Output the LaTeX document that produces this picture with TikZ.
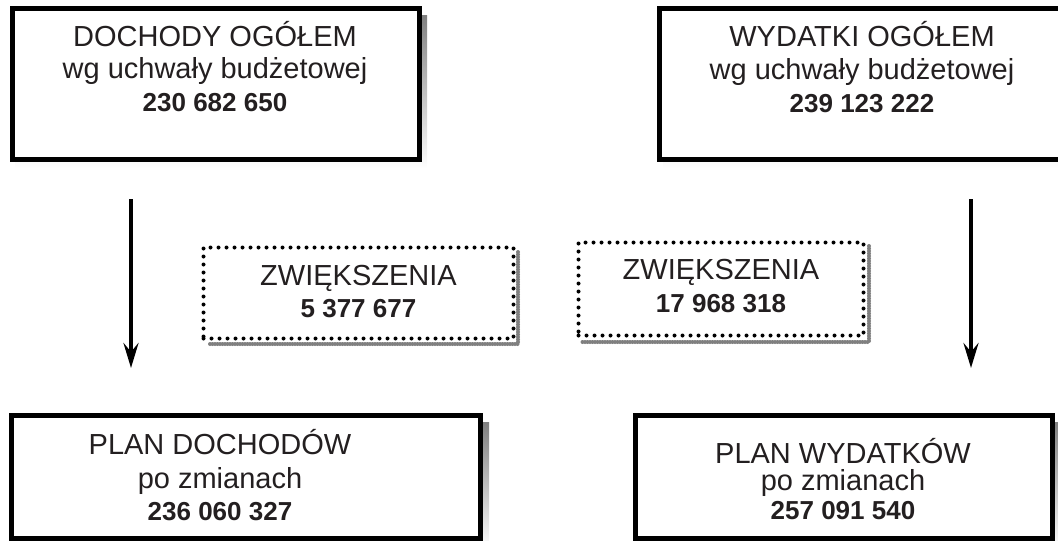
\documentclass[tikz,border=0pt]{standalone}
\usepackage{fontspec}
\setmainfont{Liberation Sans}
\usetikzlibrary{arrows.meta}
\definecolor{ink}{RGB}{35,31,32}
\definecolor{shade}{RGB}{128,128,128}
\begin{document}
\begin{tikzpicture}[x=1pt,y=-1pt,
  solidbox/.style={draw=black, line width=5pt, fill=white, rectangle, inner sep=0pt, outer sep=0pt},
  dotbox/.style={draw=black, line width=4pt, line cap=round, dash pattern=on 0pt off 8pt, fill=white, rectangle, inner sep=0pt, outer sep=0pt},
  dotshadow/.style={draw=shade, line width=4pt, line cap=round, dash pattern=on 0pt off 2.5pt},
  txt/.style={anchor=base, inner sep=0pt, text=ink, font=\fontsize{29}{33}\selectfont},
  num/.style={anchor=base, inner sep=0pt, text=ink, font=\fontsize{26}{30}\selectfont\bfseries},
  flow/.style={draw=black, line width=4pt, -{Stealth[length=25pt, width=15pt, inset=9pt]}}
]
\useasboundingbox (0,0) rectangle (1058,541);

% shadows of solid boxes
\fill[shade] (15,15) rectangle (427,168);
\fill[shade] (663,15) rectangle (1070,168);
\fill[shade] (15,422) rectangle (489,550);
\fill[shade] (639,422) rectangle (1061,550);

% solid boxes
\node[solidbox, minimum width=407pt, minimum height=151pt] (dochody) at (215.5,84) {};
\node[solidbox, minimum width=405pt, minimum height=151pt] (wydatki) at (862,84) {};
\node[solidbox, minimum width=469pt, minimum height=123pt] (plandoch) at (246,477) {};
\node[solidbox, minimum width=417pt, minimum height=123pt] (planwyd) at (844,477) {};

% dotted boxes with shadows
\draw[dotshadow] (518,252) -- (518,344) -- (208,344);
\node[dotbox, minimum width=310pt, minimum height=91pt] (zw1) at (358.5,293) {};
\draw[dotshadow] (869,246) -- (869,342) -- (582,342);
\node[dotbox, minimum width=285pt, minimum height=93pt] (zw2) at (721,289) {};

% texts
\node[txt] (t1a) at (215,46) {DOCHODY OGÓŁEM};
\node[txt] (t1b) at (215,78) {wg uchwały budżetowej};
\node[num] (t1c) at (215,111) {230 682 650};

\node[txt] (t2a) at (862,46) {WYDATKI OGÓŁEM};
\node[txt] (t2b) at (862,79) {wg uchwały budżetowej};
\node[num] (t2c) at (862,112) {239 123 222};

\node[txt] (t3a) at (220,454) {PLAN DOCHODÓW};
\node[txt] (t3b) at (220,488) {po zmianach};
\node[num] (t3c) at (220,520) {236 060 327};

\node[txt] (t4a) at (843,463) {PLAN WYDATKÓW};
\node[txt] (t4b) at (843,490) {po zmianach};
\node[num] (t4c) at (843,519) {257 091 540};

\node[txt] (z1a) at (358.5,285) {ZWIĘKSZENIA};
\node[num] (z1b) at (358.5,317) {5 377 677};

\node[txt] (z2a) at (721,279) {ZWIĘKSZENIA};
\node[num] (z2b) at (721,312) {17 968 318};

% arrows
\coordinate (a1s) at (131,199);
\coordinate (a1e) at (131,368);
\coordinate (a2s) at (971,199);
\coordinate (a2e) at (971,368);
\draw[flow] (a1s) -- (a1e);
\draw[flow] (a2s) -- (a2e);
\end{tikzpicture}
\end{document}
